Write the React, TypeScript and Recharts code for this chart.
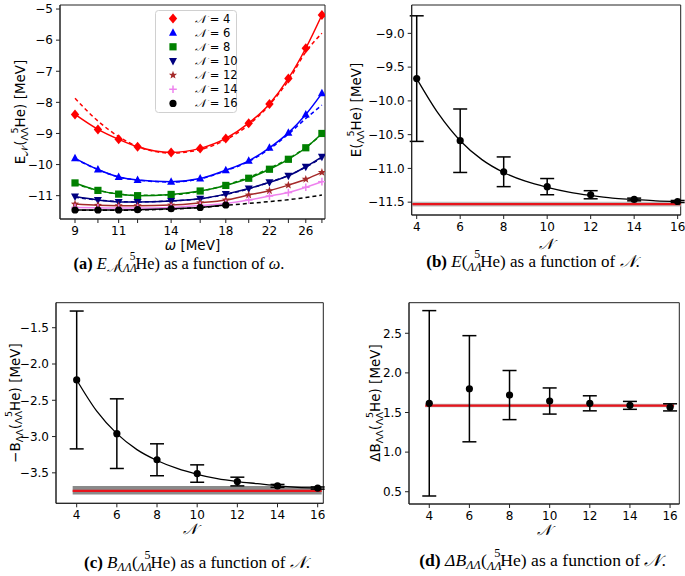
import React from 'react';
import { ComposedChart, Line, XAxis, YAxis, ErrorBar, ReferenceArea, ReferenceLine } from 'recharts';

// ---------- Panel (a): E_N vs omega ----------
const omega = [9, 10, 11, 12, 14, 16, 18, 20, 22, 24, 26, 28];
const omegaLabels = [9, 11, 14, 18, 22, 26];
const omega16 = [9, 10, 11, 12, 14, 16, 18];
const eN4 = [-8.39, -8.87, -9.19, -9.43, -9.61, -9.48, -9.16, -8.67, -8.05, -7.23, -6.26, -5.19];
const eN6 = [-9.8, -10.16, -10.4, -10.5, -10.55, -10.45, -10.18, -9.88, -9.46, -8.98, -8.39, -7.71];
const eN8 = [-10.59, -10.83, -10.95, -11.0, -10.96, -10.85, -10.67, -10.44, -10.15, -9.83, -9.46, -9.0];
const eN10 = [-11.03, -11.14, -11.2, -11.2, -11.17, -11.1, -10.95, -10.77, -10.57, -10.36, -10.07, -9.75];
const eN12 = [-11.27, -11.31, -11.32, -11.32, -11.3, -11.23, -11.14, -10.98, -10.84, -10.66, -10.47, -10.25];
const eN14 = [-11.38, -11.39, -11.4, -11.4, -11.38, -11.32, -11.25, -11.14, -11.01, -10.9, -10.73, -10.55];
const eN16 = [-11.46, -11.46, -11.46, -11.45, -11.42, -11.38, -11.3];
const fitN4 = [-7.87, -8.6, -9.1, -9.42, -9.63, -9.52, -9.2, -8.72, -8.08, -7.3, -6.38, -5.78];
const fitN6 = [-9.82, -10.16, -10.4, -10.5, -10.56, -10.46, -10.2, -9.9, -9.5, -9.02, -8.52, -8.09];
const fitN8 = [-10.62, -10.83, -10.95, -10.99, -10.97, -10.86, -10.66, -10.41, -10.12, -9.81, -9.45, -9.03];
const fitN10 = [-11.05, -11.14, -11.19, -11.2, -11.17, -11.1, -10.96, -10.78, -10.57, -10.35, -10.08, -9.78];
const fitN16 = [-11.47, -11.47, -11.47, -11.46, -11.43, -11.38, -11.31, -11.25, -11.19, -11.13, -11.06, -10.98];
const legendLabels = ['4', '6', '8', '10', '12', '14', '16'];

// ---------- Panels (b)-(d): vs N ----------
const nValues = [4, 6, 8, 10, 12, 14, 16];
const nCurve = [4, 5, 6, 7, 8, 9, 10, 11, 12, 13, 14, 15, 16];

const energyB = [-9.67, -10.59, -11.05, -11.27, -11.39, -11.46, -11.49];
const errB = [0.93, 0.47, 0.22, 0.12, 0.06, 0.02, 0.015];
const curveB = [-9.67, -10.19, -10.59, -10.87, -11.06, -11.19, -11.28, -11.35, -11.4, -11.44, -11.46, -11.48, -11.49];
const bandB = [-11.565, -11.495];
const extrapB = -11.53;

const bindC = [-2.22, -2.96, -3.32, -3.51, -3.62, -3.68, -3.71];
const errC = [0.95, 0.48, 0.22, 0.12, 0.06, 0.02, 0.015];
const curveC = [-2.22, -2.65, -2.96, -3.18, -3.33, -3.44, -3.52, -3.58, -3.62, -3.65, -3.68, -3.7, -3.71];
const bandC = [-3.8, -3.68];
const extrapC = -3.75;

const deltaD = [1.616, 1.8, 1.72, 1.645, 1.616, 1.59, 1.565];
const errD = [1.17, 0.67, 0.31, 0.165, 0.095, 0.05, 0.045];
const bandD = [1.565, 1.61];
const extrapD = 1.586;

const bandSpan = [3.8, 16.2];
const nTicks = [4, 6, 8, 10, 12, 14, 16];

// ---------- helpers ----------
const SANS = '"DejaVu Sans", sans-serif';
const SERIF = '"Liberation Serif", "DejaVu Serif", serif';
const AX = '#222';
const minus = (v: number, d = 0) => (d ? v.toFixed(d) : String(v)).replace('-', '\u2212');
const rangeTicks = (a: number, b: number, s: number) => {
  const out: number[] = [];
  for (let k = Math.round(a / s); k * s <= b + 1e-9; k++) out.push(+(k * s).toFixed(3));
  return out;
};

const Marker = ({ shape, cx, cy, color }: any) => {
  if (cx == null || cy == null) return null;
  switch (shape) {
    case 'D':
      return <polygon points={`${cx},${cy - 5} ${cx + 4.2},${cy} ${cx},${cy + 5} ${cx - 4.2},${cy}`} fill={color} />;
    case '^':
      return <polygon points={`${cx},${cy - 4.5} ${cx + 4},${cy + 3} ${cx - 4},${cy + 3}`} fill={color} />;
    case 'v':
      return <polygon points={`${cx},${cy + 4.5} ${cx + 4},${cy - 3} ${cx - 4},${cy - 3}`} fill={color} />;
    case 's':
      return <rect x={cx - 3.6} y={cy - 3.6} width={7.2} height={7.2} fill={color} />;
    case '*': {
      const pts: string[] = [];
      for (let i = 0; i < 10; i++) {
        const r = i % 2 === 0 ? 4.3 : 1.8;
        const a = -Math.PI / 2 + (i * Math.PI) / 5;
        pts.push(`${cx + r * Math.cos(a)},${cy + r * Math.sin(a)}`);
      }
      return <polygon points={pts.join(' ')} fill={color} />;
    }
    case '+':
      return (
        <g stroke={color} strokeWidth={1.5}>
          <line x1={cx - 3.8} y1={cy} x2={cx + 3.8} y2={cy} />
          <line x1={cx} y1={cy - 3.8} x2={cx} y2={cy + 3.8} />
        </g>
      );
    default:
      return <circle cx={cx} cy={cy} r={3.6} fill={color} />;
  }
};

const dotFn = (shape: string, color: string, id: string) => (p: any) => (
  <Marker key={`${id}-${p.index}`} shape={shape} cx={p.cx} cy={p.cy} color={color} />
);

const rows = (xs: number[], ys: number[], errs?: number[]) =>
  xs.map((x, i) => (errs ? { x, y: ys[i], err: errs[i] } : { x, y: ys[i] }));

const seriesA = [
  { label: legendLabels[0], data: eN4, fit: fitN4, color: '#ff0000', shape: 'D' },
  { label: legendLabels[1], data: eN6, fit: fitN6, color: '#0000ff', shape: '^' },
  { label: legendLabels[2], data: eN8, fit: fitN8, color: '#008000', shape: 's' },
  { label: legendLabels[3], data: eN10, fit: fitN10, color: '#000080', shape: 'v' },
  { label: legendLabels[4], data: eN12, fit: null, color: '#a52a2a', shape: '*' },
  { label: legendLabels[5], data: eN14, fit: null, color: '#ee82ee', shape: '+' },
  { label: legendLabels[6], data: eN16, fit: fitN16, color: '#000000', shape: 'o' },
];

const tickStyle = { fontSize: 12, fill: '#000', fontFamily: SANS };

const Frame = ({ xd, yd }: { xd: number[]; yd: number[] }) => (
  <ReferenceArea x1={xd[0]} x2={xd[1]} y1={yd[0]} y2={yd[1]} fill="none" stroke={AX} strokeWidth={1} ifOverflow="visible" />
);

// ---------- Panel components ----------
const PanelA = () => {
  const xd = [8.4, 28.4];
  const yd = [-11.75, -4.87];
  return (
    <ComposedChart width={340} height={290} margin={{ top: 5, right: 15, bottom: 41, left: 0 }}>
      <XAxis
        dataKey="x"
        type="number"
        scale="log"
        domain={xd}
        allowDataOverflow
        ticks={omega}
        interval={0}
        tickFormatter={(v: number) => (omegaLabels.includes(v) ? String(v) : '')}
        tick={tickStyle}
        tickSize={4}
        tickMargin={3}
        stroke={AX}
        height={30}
      />
      <YAxis
        type="number"
        domain={yd}
        allowDataOverflow
        ticks={[-11, -10, -9, -8, -7, -6, -5]}
        interval={0}
        tickFormatter={(v: number) => minus(v)}
        tick={tickStyle}
        tickSize={4}
        tickMargin={3}
        stroke={AX}
        width={60}
      />
      <YAxis yAxisId="minor" type="number" domain={yd} allowDataOverflow ticks={rangeTicks(-11.6, -5, 0.2)} interval={0} tick={false} tickSize={2} axisLine={false} tickLine={{ stroke: AX }} width={0} />
      <Frame xd={xd} yd={yd} />
      {seriesA.map((s) =>
        s.fit ? (
          <Line key={`fit-${s.label}`} data={rows(omega, s.fit)} dataKey="y" type="monotone" stroke={s.color} strokeWidth={1.5} strokeDasharray="4 3" dot={false} isAnimationActive={false} />
        ) : null
      )}
      {seriesA.map((s) => (
        <Line
          key={`data-${s.label}`}
          data={rows(s.data.length === omega.length ? omega : omega16, s.data)}
          dataKey="y"
          type="monotone"
          stroke={s.color}
          strokeWidth={1.5}
          dot={dotFn(s.shape, s.color, `a${s.label}`)}
          activeDot={false}
          isAnimationActive={false}
        />
      ))}
    </ComposedChart>
  );
};

type NPanelProps = {
  width: number;
  height: number;
  margin: any;
  yWidth: number;
  xd: number[];
  yd: number[];
  yTicks: number[];
  yDec: number;
  minor: number[];
  pts: any[];
  curve: any[] | null;
  band: number[];
  bandColor: string;
  extrap: number;
};

const NPanel = (p: NPanelProps) => (
  <ComposedChart width={p.width} height={p.height} margin={p.margin}>
    <XAxis dataKey="x" type="number" domain={p.xd} allowDataOverflow ticks={nTicks} interval={0} tick={tickStyle} tickSize={4} tickMargin={3} stroke={AX} height={30} />
    <YAxis type="number" domain={p.yd} allowDataOverflow ticks={p.yTicks} interval={0} tickFormatter={(v: number) => minus(v, p.yDec)} tick={tickStyle} tickSize={4} tickMargin={3} stroke={AX} width={p.yWidth} />
    <YAxis yAxisId="minor" type="number" domain={p.yd} allowDataOverflow ticks={p.minor} interval={0} tick={false} tickSize={2} axisLine={false} tickLine={{ stroke: AX }} width={0} />
    <Frame xd={p.xd} yd={p.yd} />
    <ReferenceArea x1={bandSpan[0]} x2={bandSpan[1]} y1={p.band[0]} y2={p.band[1]} fill={p.bandColor} fillOpacity={1} stroke="none" ifOverflow="hidden" />
    <ReferenceLine segment={[{ x: bandSpan[0], y: p.extrap }, { x: bandSpan[1], y: p.extrap }]} stroke="#e8141c" strokeWidth={2.2} ifOverflow="hidden" />
    {p.curve ? <Line data={p.curve} dataKey="y" type="monotone" stroke="#000" strokeWidth={1.3} dot={false} activeDot={false} isAnimationActive={false} /> : null}
    <Line data={p.pts} dataKey="y" stroke="none" dot={dotFn('o', '#000', 'n')} activeDot={false} isAnimationActive={false}>
      <ErrorBar dataKey="err" width={7} stroke="#000" strokeWidth={1.5} direction="y" />
    </Line>
  </ComposedChart>
);

// ---------- text helpers ----------
const NucTspans = ({ sub, size, italic }: { sub: number; size: number; italic?: boolean }) => (
  <>
    <tspan dy={sub * 0.3} fontSize={sub} fontStyle={italic ? 'italic' : 'normal'}>ΛΛ</tspan>
    <tspan dx={-sub * 0.62} dy={-sub * 1.05} fontSize={sub}>5</tspan>
    <tspan dy={sub * 0.75} fontSize={size}>He)</tspan>
  </>
);

const YLabel = ({ x, y, prefix, children }: any) => (
  <text x={x} y={y} transform={`rotate(-90 ${x} ${y})`} textAnchor="middle" fontFamily={SANS} fontSize={13.5} fill="#000">
    {prefix}
    {children}
  </text>
);

const SC = '𝒩';

const Overlay = () => {
  const ls = 13.5;
  const sub = 9.5;
  const capA = 16.3;
  const capB = 17;
  const capD = 17.6;
  return (
    <svg width={685} height={576} style={{ position: 'absolute', left: 0, top: 0, pointerEvents: 'none' }}>
      {/* Panel a legend */}
      <rect x={155.5} y={10.5} width={81} height={102} rx={3} fill="#fff" fillOpacity={0.85} stroke="#d0d0d0" />
      {seriesA.map((s, i) => (
        <g key={`lg-${s.label}`}>
          <Marker shape={s.shape} cx={173} cy={18.5 + i * 14.15} color={s.color} />
          <text x={195} y={22.5 + i * 14.15} fontFamily={SANS} fontSize={11.5} fill="#000">
            <tspan fontFamily={SERIF} fontStyle="italic">{SC}</tspan> = {s.label}
          </text>
        </g>
      ))}

      {/* Panel a labels */}
      <text x={192.5} y={249.5} textAnchor="middle" fontFamily={SANS} fontSize={ls}>
        <tspan fontStyle="italic">ω</tspan> [MeV]
      </text>
      <YLabel x={25} y={112}>
        E<tspan dy={3} fontSize={sub}>{SC}</tspan>
        <tspan dy={-3}>(</tspan>
        <NucTspans sub={sub} size={ls} />
        <tspan> [MeV]</tspan>
      </YLabel>

      {/* Panel b labels */}
      <text x={546} y={249} textAnchor="middle" fontFamily={SERIF} fontStyle="italic" fontSize={15}>{SC}</text>
      <YLabel x={361} y={110}>
        E(
        <NucTspans sub={sub} size={ls} />
        <tspan> [MeV]</tspan>
      </YLabel>

      {/* Panel c labels */}
      <text x={190} y={534} textAnchor="middle" fontFamily={SERIF} fontStyle="italic" fontSize={15}>{SC}</text>
      <YLabel x={19.5} y={403}>
        {'\u2212'}B<tspan dy={3} fontSize={sub}>ΛΛ</tspan>
        <tspan dy={-3}>(</tspan>
        <NucTspans sub={sub} size={ls} />
        <tspan> [MeV]</tspan>
      </YLabel>

      {/* Panel d labels */}
      <text x={544} y={535} textAnchor="middle" fontFamily={SERIF} fontStyle="italic" fontSize={15}>{SC}</text>
      <YLabel x={380} y={403}>
        ΔB<tspan dy={3} fontSize={sub}>ΛΛ</tspan>
        <tspan dy={-3}>(</tspan>
        <NucTspans sub={sub} size={ls} />
        <tspan> [MeV]</tspan>
      </YLabel>

      {/* Captions */}
      <text x={179} y={269} textAnchor="middle" fontFamily={SERIF} fontSize={capA}>
        <tspan fontWeight="bold">(a)</tspan> <tspan fontStyle="italic">E</tspan>
        <tspan dy={3} fontSize={capA * 0.7} fontStyle="italic">{SC}</tspan>
        <tspan dy={-3}>(</tspan>
        <NucTspans sub={capA * 0.7} size={capA} italic />
        <tspan> as a function of </tspan>
        <tspan fontStyle="italic">ω</tspan>.
      </text>
      <text x={533} y={267} textAnchor="middle" fontFamily={SERIF} fontSize={capB}>
        <tspan fontWeight="bold">(b)</tspan> <tspan fontStyle="italic">E</tspan>(
        <NucTspans sub={capB * 0.7} size={capB} italic />
        <tspan> as a function of </tspan>
        <tspan fontStyle="italic">{SC}</tspan>.
      </text>
      <text x={197} y={567.5} textAnchor="middle" fontFamily={SERIF} fontSize={capB}>
        <tspan fontWeight="bold">(c)</tspan> <tspan fontStyle="italic">B</tspan>
        <tspan dy={3} fontSize={capB * 0.7} fontStyle="italic">ΛΛ</tspan>
        <tspan dy={-3}>(</tspan>
        <NucTspans sub={capB * 0.7} size={capB} italic />
        <tspan> as a function of </tspan>
        <tspan fontStyle="italic">{SC}</tspan>.
      </text>
      <text x={542.5} y={566} textAnchor="middle" fontFamily={SERIF} fontSize={capD}>
        <tspan fontWeight="bold">(d)</tspan> <tspan fontStyle="italic">ΔB</tspan>
        <tspan dy={3} fontSize={capD * 0.7} fontStyle="italic">ΛΛ</tspan>
        <tspan dy={-3}>(</tspan>
        <NucTspans sub={capD * 0.7} size={capD} italic />
        <tspan> as a function of </tspan>
        <tspan fontStyle="italic">{SC}</tspan>.
      </text>
    </svg>
  );
};

export default function App() {
  return (
    <div style={{ position: 'absolute', left: 0, top: 0, width: 685, height: 576, background: '#fff', overflow: 'hidden' }}>
      <div style={{ position: 'absolute', left: 0, top: 0 }}>
        <PanelA />
      </div>
      <div style={{ position: 'absolute', left: 340, top: 0 }}>
        <NPanel
          width={345}
          height={290}
          margin={{ top: 5, right: 4.3, bottom: 45, left: 0 }}
          yWidth={71.7}
          xd={[3.77, 16.14]}
          yd={[-11.69, -8.58]}
          yTicks={[-11.5, -11, -10.5, -10, -9.5, -9]}
          yDec={1}
          minor={rangeTicks(-11.6, -8.6, 0.1)}
          pts={rows(nValues, energyB, errB)}
          curve={rows(nCurve, curveB)}
          band={bandB}
          bandColor="#bdbdbd"
          extrap={extrapB}
        />
      </div>
      <div style={{ position: 'absolute', left: 0, top: 290 }}>
        <NPanel
          width={340}
          height={286}
          margin={{ top: 12.7, right: 16.7, bottom: 42.7, left: 0 }}
          yWidth={56}
          xd={[2.97, 16.28]}
          yd={[-3.92, -1.155]}
          yTicks={[-3.5, -3, -2.5, -2, -1.5]}
          yDec={1}
          minor={rangeTicks(-3.9, -1.2, 0.1)}
          pts={rows(nValues, bindC, errC)}
          curve={rows(nCurve, curveC)}
          band={bandC}
          bandColor="#8a8a8a"
          extrap={extrapC}
        />
      </div>
      <div style={{ position: 'absolute', left: 340, top: 290 }}>
        <NPanel
          width={345}
          height={286}
          margin={{ top: 12.7, right: 5.7, bottom: 42, left: 0 }}
          yWidth={69}
          xd={[2.99, 16.46]}
          yd={[0.345, 2.886]}
          yTicks={[0.5, 1, 1.5, 2, 2.5]}
          yDec={1}
          minor={rangeTicks(0.4, 2.8, 0.1)}
          pts={rows(nValues, deltaD, errD)}
          curve={null}
          band={bandD}
          bandColor="#b8b8b8"
          extrap={extrapD}
        />
      </div>
      <Overlay />
    </div>
  );
}
